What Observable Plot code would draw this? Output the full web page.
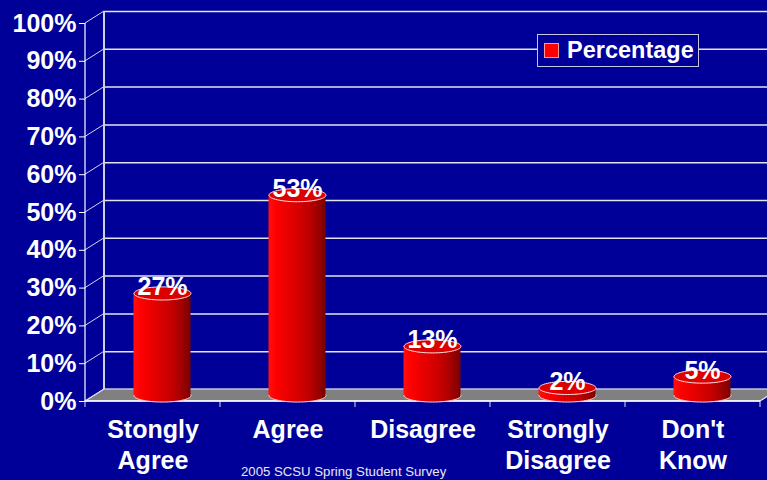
<!DOCTYPE html>
<html>
<head>
<meta charset="utf-8">
<script src="https://cdn.jsdelivr.net/npm/d3@7"></script>
<script src="https://cdn.jsdelivr.net/npm/@observablehq/plot@0.6"></script>
<style>
  html, body { margin: 0; padding: 0; background: #000099; }
  #wrap { position: relative; width: 767px; height: 480px; overflow: hidden; }
  #legend { position: absolute; left: 537px; top: 34px; width: 162px; height: 33px; box-sizing: border-box;
    border: 1px solid #c8c8e0; background: #000099; display: flex; align-items: center; padding-left: 6px;
    font: bold 23.5px "Liberation Sans", Arial, sans-serif; color: white; }
  #legend .sw { width: 13px; height: 13px; background: #ff0000; border: 1px solid #ff9999; margin-right: 8px; }
  #caption { position: absolute; left: 241px; top: 464px; font: 13.2px "Liberation Sans", Arial, sans-serif; color: #e8e8f0; }
</style>
</head>
<body>
<div id="wrap">
  <div id="chart"></div>
  <div id="legend"><div class="sw"></div>Percentage</div>
  <div id="caption">2005 SCSU Spring Student Survey</div>
</div>
<script>
const categories = ["Stongly\nAgree", "Agree", "Disagree", "Strongly\nDisagree", "Don't\nKnow"];
const percentages = [27, 53, 13, 2, 5];
const yTicks = [0, 10, 20, 30, 40, 50, 60, 70, 80, 90, 100];
const seriesName = "Percentage";

const data = categories.map((c, i) => ({cat: c, value: percentages[i]}));

const DX = 19, DY = -12;       // depth of the 3D frame
const CX = DX / 2, CY = DY / 2; // cylinders sit midway

const ellipse = {
  draw(ctx, size) {
    const rx = Math.sqrt(size / Math.PI), ry = rx * 0.23, k = 0.5523;
    ctx.moveTo(rx, 0);
    ctx.bezierCurveTo(rx, ry * k, rx * k, ry, 0, ry);
    ctx.bezierCurveTo(-rx * k, ry, -rx, ry * k, -rx, 0);
    ctx.bezierCurveTo(-rx, -ry * k, -rx * k, -ry, 0, -ry);
    ctx.bezierCurveTo(rx * k, -ry, rx, -ry * k, rx, 0);
    ctx.closePath();
  }
};

function defs() {
  const d = d3.create("svg:defs");
  const g = d.append("linearGradient").attr("id", "cyl").attr("x1", 0).attr("x2", 1).attr("y1", 0).attr("y2", 0);
  [["0%", "#ff1010"], ["12%", "#ff0000"], ["45%", "#dd0000"], ["70%", "#c00000"], ["85%", "#a00000"], ["100%", "#7a0000"]]
    .forEach(([o, c]) => g.append("stop").attr("offset", o).attr("stop-color", c));
  return d.node();
}

function frame3d(index, scales, values, dims) {
  const x = scales.x, y = scales.y;
  const L = dims.marginLeft, R = dims.width - dims.marginRight;
  const y0 = y(0), yT = y(100);
  const g = d3.create("svg:g");
  // floor
  g.append("path")
    .attr("d", `M${L},${y0}L${L + DX},${y0 + DY}L${R + DX},${y0 + DY}L${R},${y0}Z`)
    .attr("fill", "#808080").attr("stroke", "#e8e8f0").attr("stroke-width", 1.2);
  // back wall left edge
  g.append("line").attr("x1", L + DX).attr("x2", L + DX).attr("y1", y0 + DY).attr("y2", yT + DY)
    .attr("stroke", "#d0d0e0").attr("stroke-width", 2);
  // diagonals from front axis to back wall
  for (const t of yTicks) {
    g.append("line").attr("x1", L).attr("y1", y(t)).attr("x2", L + DX).attr("y2", y(t) + DY)
      .attr("stroke", "#d8d8e8").attr("stroke-width", 1);
  }
  // front vertical axis line
  g.append("line").attr("x1", L).attr("x2", L).attr("y1", y0).attr("y2", yT)
    .attr("stroke", "white").attr("stroke-width", 1.2);
  // x ticks at category boundaries
  const bounds = x.domain().map(c => x(c)).concat([R]);
  for (const bx of bounds) {
    g.append("line").attr("x1", bx).attr("x2", bx).attr("y1", y0).attr("y2", y0 + 6)
      .attr("stroke", "#d8d8e8").attr("stroke-width", 1);
  }
  // front floor edge
  g.append("line").attr("x1", L).attr("x2", R).attr("y1", y0).attr("y2", y0)
    .attr("stroke", "white").attr("stroke-width", 1.5);
  return g.node();
}

const chart = Plot.plot({
  width: 767,
  height: 480,
  marginLeft: 85,
  marginRight: 7,
  marginTop: 23,
  marginBottom: 79,
  style: {background: "#000099", color: "white", fontFamily: "'Liberation Sans', Arial, sans-serif", fontSize: "25px", fontWeight: "bold"},
  x: {domain: categories, padding: 0, axis: null},
  y: {domain: [0, 100], ticks: yTicks, tickFormat: d => d + "%", tickSize: 6, tickPadding: 3, label: null},
  marks: [
    defs,
    Plot.ruleY(yTicks, {dx: DX, dy: DY, stroke: "#e4e4f0", strokeWidth: 1.5}),
    frame3d,
    Plot.dot(data, {x: "cat", y: d => 0, r: 28.5, symbol: ellipse, dx: CX, dy: CY, fill: "url(#cyl)", stroke: "#ffd0d0", strokeWidth: 1}),
    Plot.barY(data, {x: "cat", y1: d => 0, y2: "value", dx: CX, dy: CY, insetLeft: 39, insetRight: 39, fill: "url(#cyl)"}),
    Plot.dot(data, {x: "cat", y: "value", r: 28.5, symbol: ellipse, dx: CX, dy: CY, fill: "#dd0000", stroke: "#ffe0e0", strokeWidth: 1}),
    Plot.text(data, {x: "cat", y: "value", text: d => d.value + "%", dx: CX, dy: CY - 6, fill: "white", fontSize: 25, fontWeight: "bold"}),
    Plot.text(data, {x: "cat", text: "cat", frameAnchor: "bottom", lineAnchor: "top", dy: 14, lineHeight: 1.25, fill: "white", fontSize: 25, fontWeight: "bold"})
  ]
});
document.getElementById("chart").appendChild(chart);
</script>
</body>
</html>
